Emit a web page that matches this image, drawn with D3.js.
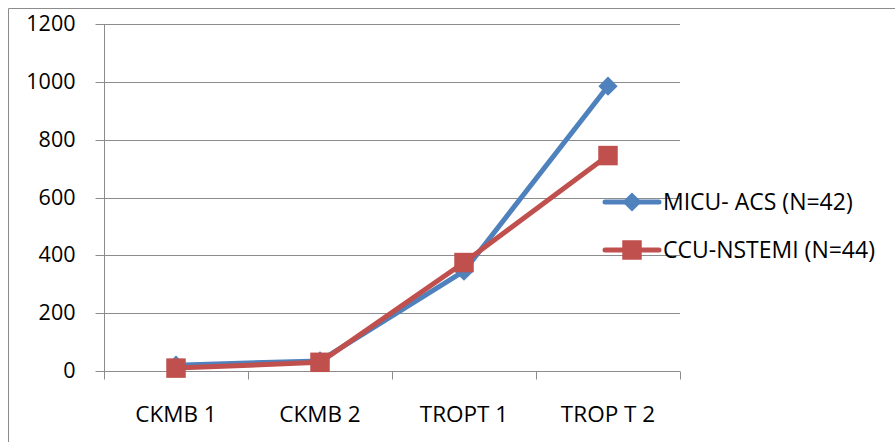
<!DOCTYPE html>
<html>
<head>
<meta charset="utf-8">
<script src="https://cdn.jsdelivr.net/npm/d3@7"></script>
<style>
  html, body { margin: 0; padding: 0; background: #fff; }
  svg { display: block; font-family: "Open Sans", sans-serif; }
</style>
</head>
<body>
<svg id="chart" width="895" height="442"></svg>
<script>
// Categories and series values
const categories = ["CKMB 1", "CKMB 2", "TROPT 1", "TROP T 2"];
const micuValues = [20, 35, 345, 985];
const ccuValues = [10, 30, 375, 745];
const seriesNames = ["MICU- ACS (N=42)", "CCU-NSTEMI (N=44)"];
const yTicks = [0, 200, 400, 600, 800, 1000, 1200];

const series = [
  { name: seriesNames[0], values: micuValues, color: "#4F81BD", symbol: d3.symbolSquare, size: 185, rotate: 45 },
  { name: seriesNames[1], values: ccuValues, color: "#C0504D", symbol: d3.symbolSquare, size: 380, rotate: 0 }
];

const FONT = "'Open Sans', sans-serif";
const svg = d3.select("#chart");
const W = 895, H = 442;
const plot = { left: 104, right: 680, top: 24, bottom: 371 };

// Outer frame (left and top edges visible)
svg.append("path")
  .attr("d", `M8.5,${H} L8.5,8.5 L${W},8.5`)
  .attr("fill", "none").attr("stroke", "#8c8c8c").attr("stroke-width", 1);

const x = d3.scaleBand().domain(categories).range([plot.left, plot.right]).paddingInner(0).paddingOuter(0);
const y = d3.scaleLinear().domain([0, 1200]).range([plot.bottom, plot.top]);

// Horizontal gridlines
svg.append("g").selectAll("line").data(yTicks.filter(d => d > 0)).join("line")
  .attr("x1", plot.left).attr("x2", plot.right)
  .attr("y1", d => Math.round(y(d)) + 0.5).attr("y2", d => Math.round(y(d)) + 0.5)
  .attr("stroke", "#8c8c8c").attr("stroke-width", 1);

// Y axis
const yAxis = svg.append("g").attr("transform", `translate(${plot.left + 0.5},0)`)
  .call(d3.axisLeft(y).tickValues(yTicks).tickSize(9).tickPadding(20).tickFormat(d3.format("d")));
yAxis.select(".domain").attr("stroke", "#8c8c8c").attr("d", `M0,${plot.top}V${plot.bottom}`);
yAxis.selectAll(".tick line").attr("stroke", "#8c8c8c");
yAxis.selectAll(".tick text").attr("fill", "#000").style("font-size", "21.5px").style("font-family", FONT);
yAxis.selectAll(".tick").attr("transform", d => `translate(0,${Math.round(y(d)) + 0.5})`);

// X axis with ticks at category boundaries
const xAxisG = svg.append("g").attr("transform", `translate(0,${plot.bottom + 0.5})`);
xAxisG.append("line").attr("x1", plot.left).attr("x2", plot.right).attr("stroke", "#8c8c8c");
const bounds = categories.map(c => x(c)).concat([x(categories[categories.length - 1]) + x.bandwidth()]);
xAxisG.selectAll("line.tk").data(bounds).join("line").attr("class", "tk")
  .attr("x1", d => Math.round(d) + 0.5).attr("x2", d => Math.round(d) + 0.5)
  .attr("y1", 0).attr("y2", 8).attr("stroke", "#8c8c8c");
xAxisG.selectAll("text").data(categories).join("text")
  .attr("x", d => x(d) + x.bandwidth() / 2).attr("y", 50.5)
  .attr("text-anchor", "middle").attr("fill", "#000")
  .style("font-size", "22.5px").style("font-family", FONT)
  .text(d => d);

// Series lines and markers
const line = d3.line().x((d, i) => x(categories[i]) + x.bandwidth() / 2).y(d => y(d));
series.forEach(s => {
  const g = svg.append("g");
  g.append("path").datum(s.values).attr("d", line)
    .attr("fill", "none").attr("stroke", s.color).attr("stroke-width", 5)
    .attr("stroke-linejoin", "round").attr("stroke-linecap", "round");
  g.selectAll("path.m").data(s.values).join("path").attr("class", "m")
    .attr("d", d3.symbol().type(s.symbol).size(s.size))
    .attr("transform", (d, i) => `translate(${x(categories[i]) + x.bandwidth() / 2},${y(d)}) rotate(${s.rotate})`)
    .attr("fill", s.color);
});

// Legend
const legend = svg.append("g");
series.forEach((s, i) => {
  const ly = 202 + i * 48;
  const lg = legend.append("g").attr("transform", `translate(603,${ly})`);
  lg.append("line").attr("x1", 2).attr("x2", 56).attr("y1", 0).attr("y2", 0)
    .attr("stroke", s.color).attr("stroke-width", 5).attr("stroke-linecap", "round");
  lg.append("path").attr("d", d3.symbol().type(s.symbol).size(s.size))
    .attr("transform", `translate(29,0) rotate(${s.rotate})`).attr("fill", s.color);
  lg.append("text").attr("x", 60).attr("y", 8).attr("fill", "#000")
    .style("font-size", "23px").style("font-family", FONT).text(s.name);
});
</script>
</body>
</html>
